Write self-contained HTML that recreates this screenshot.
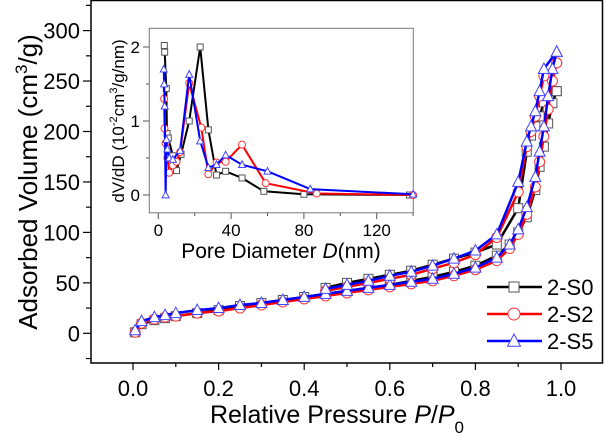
<!DOCTYPE html>
<html><head><meta charset="utf-8"><style>
html,body{margin:0;padding:0;background:#fff;}
svg{display:block;font-family:"Liberation Sans",Arial,sans-serif;}
</style></head><body>
<svg id="chart" width="605" height="436" viewBox="0 0 605 436">
<g id="frame"></g>
<g id="series"></g>
<g id="inset"></g>
<g id="legend"></g>
<text x="337" y="423" font-size="25" text-anchor="middle">Relative Pressure <tspan font-style="italic">P</tspan>/<tspan font-style="italic">P</tspan><tspan font-size="17" dy="10">0</tspan></text>
<text transform="translate(37,182) rotate(-90)" font-size="26" text-anchor="middle">Adsorbed Volume (cm<tspan font-size="17" dy="-10">3</tspan><tspan dy="10">/g)</tspan></text>
<text transform="translate(124,121) rotate(-90)" font-size="17" text-anchor="middle">dV/dD (10<tspan font-size="11" dy="-7">-2</tspan><tspan dy="7">cm</tspan><tspan font-size="11" dy="-7">3</tspan><tspan dy="7">/g/nm)</tspan></text>
<text x="281" y="258" font-size="21" text-anchor="middle">Pore Diameter <tspan font-style="italic">D</tspan>(nm)</text>
</svg>
<script>
// main data
const pAds = [0.005,0.02,0.05,0.075,0.1,0.15,0.2,0.25,0.3,0.35,0.4,0.45,0.5,0.55,0.6,0.65,0.7,0.75,0.8,0.85,0.88,0.9,0.92,0.94,0.95,0.96,0.97,0.98,0.99];
const pDes = [0.99,0.96,0.95,0.94,0.93,0.92,0.90,0.85,0.80,0.75,0.70,0.65,0.60,0.55,0.50,0.45];
const s0Ads = [1,9,13,15,17,20,23,27,30,33,36,39,42,45,48,52,56,61,67,77,88,100,115,142,165,185,208,228,240];
const s0Des = [240,229,215,205,196,180,124,88,80,74,68,62,58,54,50,45];
const s2Ads = [1,10,14,16,17,20,22,25,28,31,34,37,40,43,46,49,52,57,63,72,84,98,118,145,170,195,222,250,268];
const s2Des = [268,255,235,215,200,185,140,95,78,70,64,58,54,50,46,42];
const s5Ads = [3,12,16,18,20,23,25,28,30,33,36,39,42,45,48,51,54,59,65,75,88,103,125,155,180,205,235,262,279];
const s5Des = [279,262,240,220,205,190,150,98,82,74,67,61,57,52,48,44];
const xTicks = ["0.0","0.2","0.4","0.6","0.8","1.0"];
const yTicks = ["0","50","100","150","200","250","300"];
// inset data
const d0 = [3.3,3.5,4.4,4.8,5.5,8,10,12.5,17,23,27.5,32,37,46,58,80,138];
const v0 = [2.02,1.93,1.44,0.83,0.77,0.53,0.33,0.55,1.0,2.0,0.88,0.27,0.32,0.23,0.05,0.01,0.0];
const d2 = [3.2,3.4,4,5,6,8,10,12,17,23.6,27.5,32,37,46,59,87,140];
const v2 = [1.3,0.9,0.7,0.5,0.3,0.4,0.45,0.58,1.51,0.91,0.28,0.44,0.45,0.68,0.16,0.02,0.0];
const d5 = [3,3.2,3.5,4,4.5,5,6,8,12,17,23,27.5,32,37,46,60,83.5,140];
const v5 = [1.7,1.5,1.2,0.0,0.75,0.62,0.5,0.48,0.6,1.63,0.73,0.37,0.41,0.54,0.41,0.32,0.08,0.01];
const insetXTicks = ["0","40","80","120"];
const insetYTicks = ["0","1","2"];

const NS="http://www.w3.org/2000/svg";
function mk(parent,tag,attrs){const e=document.createElementNS(NS,tag);for(const k in attrs)e.setAttribute(k,attrs[k]);parent.appendChild(e);return e;}
const X=p=>133+p*428, Y=v=>333.3-v*1.009;
const IX=d=>158.3+d*1.82, IY=v=>195-v*74;

const frame=document.getElementById('frame');
let r=mk(frame,'rect',{x:91,y:0.5,width:511.5,height:362.5,fill:'none',stroke:'#000','stroke-width':1.5});


for(let i=0;i<=11;i++){const x=X(i*0.1);
  if(x>603)continue;
  const t=mk(frame,'line',{x1:x,y1:363,x2:x,y2:i%2==0?370:367,stroke:'#000','stroke-width':1.2});
  
  }
xTicks.forEach((s,i)=>{const t=mk(frame,'text',{x:X(i*0.2),y:396,'font-size':22,'text-anchor':'middle'});t.textContent=s;
  
  });
for(let v=-25;v<=325;v+=25){const y=Y(v);
  const t=mk(frame,'line',{x1:91,y1:y,x2:v%50==0?83:86,y2:y,stroke:'#000','stroke-width':1.2});
  
  }
yTicks.forEach(s=>{const t=mk(frame,'text',{x:80,y:Y(+s)+8,'font-size':22,'text-anchor':'end'});t.textContent=s;
  
  });

function marker(g,type,x,y,size,color){
  let e;
  if(type==='sq'){e=mk(g,'rect',{x:x-size/2,y:y-size/2,width:size,height:size,fill:'#fff',stroke:'#555','stroke-width':1});}
  else if(type==='ci'){e=mk(g,'circle',{cx:x,cy:y,r:size/2,fill:'#fff',stroke:'#f33','stroke-width':1});}
  else {const h=size*0.9;e=mk(g,'polygon',{points:`${x},${y-h*0.6} ${x-size/2},${y+h*0.45} ${x+size/2},${y+h*0.45}`,fill:'#fff',stroke:'#44f','stroke-width':1});}
  return e;
}
const ser=document.getElementById('series');
function drawSeries(xs,ys,fx,fy,color,type,size,lw,g,name){
  const pts=xs.map((p,i)=>fx(p).toFixed(1)+','+fy(ys[i]).toFixed(1)).join(' ');
  const l=mk(g,'polyline',{points:pts,fill:'none',stroke:color,'stroke-width':lw,'stroke-linejoin':'round'});
  
  
  xs.forEach((p,i)=>{const m=marker(g,type,fx(p),fy(ys[i]),size,color);
    
    });
}
drawSeries(pAds,s0Ads,X,Y,'#000','sq',9,2.5,ser,'s0-adsorption');
drawSeries(pDes,s0Des,X,Y,'#000','sq',9,2.5,ser,'s0-desorption');
drawSeries(pAds,s2Ads,X,Y,'#f00','ci',10,2.5,ser,'s2-adsorption');
drawSeries(pDes,s2Des,X,Y,'#f00','ci',10,2.5,ser,'s2-desorption');
drawSeries(pAds,s5Ads,X,Y,'#00f','tr',11,2.5,ser,'s5-adsorption');
drawSeries(pDes,s5Des,X,Y,'#00f','tr',11,2.5,ser,'s5-desorption');

// inset
const ins=document.getElementById('inset');
let ib=mk(ins,'rect',{x:149.3,y:28.3,width:264,height:184.5,fill:'#fff',stroke:'#777','stroke-width':1});


for(let d=0;d<=140;d+=20){const t=mk(ins,'line',{x1:IX(d),y1:212.8,x2:IX(d),y2:d%40==0?219:216,stroke:'#555','stroke-width':1});
  
  }
insetXTicks.forEach(s=>{const t=mk(ins,'text',{x:IX(+s),y:236,'font-size':17,'text-anchor':'middle'});t.textContent=s;
  
  });
for(let v=0;v<=2;v+=0.5){const t=mk(ins,'line',{x1:149.3,y1:IY(v),x2:v%1==0?143:146,y2:IY(v),stroke:'#555','stroke-width':1});
  
  }
insetYTicks.forEach(s=>{const t=mk(ins,'text',{x:140,y:IY(+s)+6,'font-size':17,'text-anchor':'end'});t.textContent=s;
  
  });
drawSeries(d0,v0,IX,IY,'#000','sq',6,2,ins,'inset-s0');
drawSeries(d2,v2,IX,IY,'#f00','ci',7,2,ins,'inset-s2');
drawSeries(d5,v5,IX,IY,'#00f','tr',7,2,ins,'inset-s5');

// legend
const lg=document.getElementById('legend');
[['2-S0','#000','sq',287,10],['2-S2','#f00','ci',314,12],['2-S5','#00f','tr',341,13]].forEach(([lab,c,t,y,s])=>{
  const g=mk(lg,'g',{});
  
  
  mk(g,'line',{x1:487,y1:y,x2:542,y2:y,stroke:c,'stroke-width':2.5});
  marker(g,t,514,y,s,c);
  const tx=mk(g,'text',{x:547,y:y+8,'font-size':22});tx.textContent=lab;
});
</script>
</body></html>
